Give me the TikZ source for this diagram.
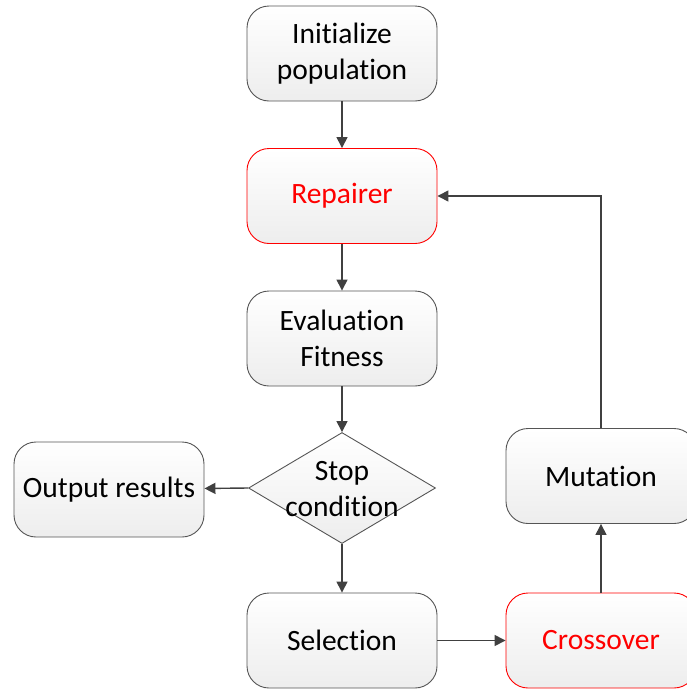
\documentclass[tikz,border=0pt]{standalone}
\usepackage{fontspec}
\setmainfont[Ligatures={NoCommon,NoRequired,NoContextual},RawFeature={-liga;-clig;-calt;-ccmp;-dlig}]{Carlito}
\usetikzlibrary{shapes.geometric,arrows.meta}
\definecolor{edgegray}{HTML}{555555}
\definecolor{arrowgray}{HTML}{404040}
\newcommand{\nti}{t\kern0pt i}
\tikzset{
  stepbox/.style={draw=edgegray, line width=0.9pt, rounded corners=22pt,
    top color=white, bottom color=black!7, minimum width=190pt, minimum height=95pt,
    align=center, inner sep=0pt, font=\fontsize{29.5}{36}\selectfont},
  redbox/.style={stepbox, draw=red, text=red},
  decision/.style={draw=edgegray, line width=0.9pt, diamond, top color=white, bottom color=black!7,
    minimum width=187pt, minimum height=111pt, inner sep=0pt},
  txt/.style={align=center, font=\fontsize{29.5}{36}\selectfont},
  flow/.style={draw=arrowgray, line width=1.4pt, -{Triangle[length=11pt,width=11pt]}}
}
\begin{document}
\begin{tikzpicture}[x=1pt,y=-1pt]
\useasboundingbox (0,0) rectangle (687,691);
\node[stepbox] (init) at (342,53.5) {Ini\nti alize\\popula\nti on};
\node[redbox] (rep) at (342,196) {Repairer};
\node[stepbox] (eval) at (342,338.5) {Evalua\nti on\\Fitness};
\node[decision] (stop) at (342,488) {};
\node[txt] (stoptext) at (342,489.5) {Stop\\condi\nti on};
\node[stepbox] (out) at (109,489.5) {Output results};
\node[stepbox] (sel) at (342,640.5) {Selec\nti on};
\node[redbox] (cross) at (601,640.5) {Crossover};
\node[stepbox] (mut) at (601,476) {Muta\nti on};
\draw[flow] (init) -- (rep);
\draw[flow] (rep) -- (eval);
\draw[flow] (eval) -- (stop.north);
\draw[flow] (stop.west) -- (out);
\draw[flow] (stop.south) -- (sel);
\draw[flow] (sel) -- (cross);
\draw[flow] (cross) -- (mut);
\draw[flow] (mut.north) |- (rep.east);
\end{tikzpicture}
\end{document}
